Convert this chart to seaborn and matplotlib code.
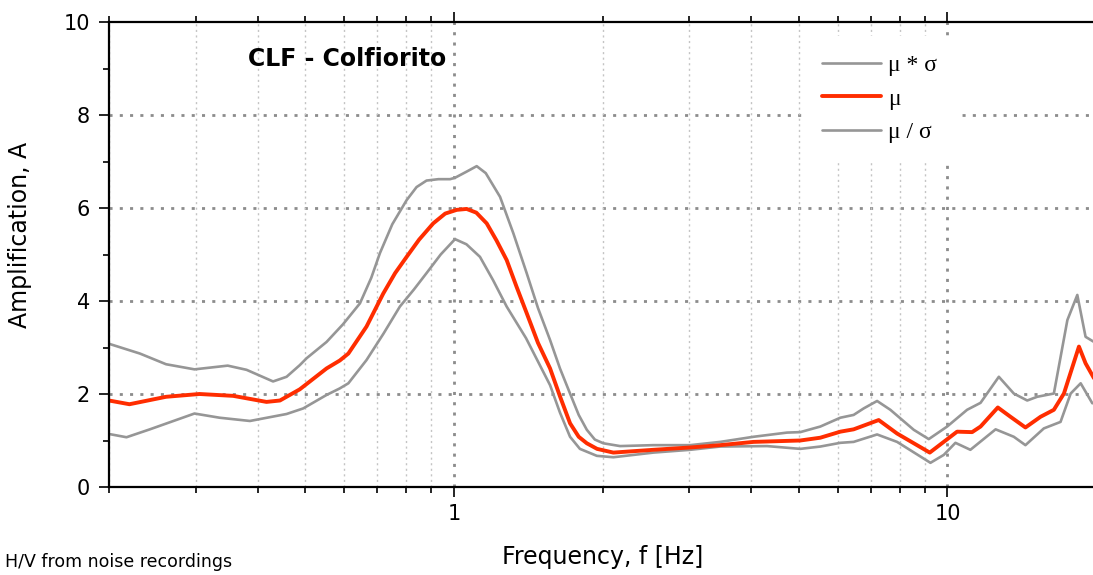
import numpy as np
import pandas as pd
import matplotlib
matplotlib.use("Agg")
import matplotlib.pyplot as plt
import seaborn as sns
from matplotlib.ticker import FixedLocator, FixedFormatter, NullFormatter, LogLocator, MultipleLocator

# ---- data ----
freq_upper = [0.200, 0.231, 0.261, 0.298, 0.348, 0.380, 0.430, 0.458, 0.487, 0.503, 0.552, 0.596,
              0.645, 0.680, 0.708, 0.750, 0.802, 0.840, 0.880, 0.930, 0.982, 1.005, 1.060, 1.112,
              1.160, 1.240, 1.320, 1.404, 1.480, 1.566, 1.640, 1.719, 1.790, 1.859, 1.930, 2.008,
              2.171, 2.537, 3.011, 3.464, 4.047, 4.731, 5.032, 5.526, 6.067, 6.455,
              6.765, 7.202, 7.662, 8.545, 9.165, 9.986, 10.96, 11.67, 12.71, 13.63, 14.51, 15.20,
              16.43, 17.50, 18.33, 19.05, 19.81]
amp_upper = [3.08, 2.87, 2.64, 2.53, 2.61, 2.52, 2.27, 2.37, 2.62, 2.77, 3.12, 3.50,
             3.95, 4.50, 5.03, 5.65, 6.17, 6.45, 6.59, 6.62, 6.62, 6.65, 6.78, 6.90,
             6.75, 6.24, 5.45, 4.60, 3.85, 3.16, 2.55, 2.01, 1.55, 1.23, 1.02, 0.94,
             0.88, 0.90, 0.90, 0.97, 1.08, 1.17, 1.18, 1.30, 1.49, 1.55,
             1.69, 1.85, 1.66, 1.23, 1.03, 1.30, 1.66, 1.81, 2.37, 2.01, 1.86, 1.94,
             2.01, 3.59, 4.13, 3.23, 3.12]

freq_mean = [0.200, 0.220, 0.261, 0.305, 0.357, 0.417, 0.444, 0.487, 0.552, 0.587, 0.611, 0.665,
             0.719, 0.760, 0.802, 0.850, 0.908, 0.960, 1.013, 1.061, 1.110, 1.165, 1.220, 1.279,
             1.340, 1.404, 1.480, 1.566, 1.640, 1.719, 1.790, 1.859, 1.950, 2.104,
             2.537, 3.011, 3.464, 4.047, 5.032, 5.526, 6.067, 6.455, 7.256, 7.906, 9.208, 10.46,
             11.22, 11.67, 12.65, 13.42, 14.39, 15.44, 16.43, 17.22, 18.47, 19.05, 19.81]
amp_mean = [1.86, 1.78, 1.94, 2.00, 1.96, 1.83, 1.86, 2.10, 2.55, 2.72, 2.87, 3.45,
            4.16, 4.60, 4.95, 5.32, 5.67, 5.88, 5.96, 5.98, 5.90, 5.67, 5.30, 4.88,
            4.30, 3.74, 3.10, 2.55, 1.95, 1.37, 1.08, 0.94, 0.82, 0.74,
            0.80, 0.85, 0.90, 0.97, 1.00, 1.06, 1.19, 1.24, 1.44, 1.15, 0.74, 1.19,
            1.18, 1.30, 1.71, 1.51, 1.28, 1.51, 1.66, 2.01, 3.02, 2.66, 2.34]

freq_lower = [0.200, 0.217, 0.242, 0.298, 0.335, 0.386, 0.458, 0.495, 0.552, 0.587, 0.611, 0.665,
              0.720, 0.777, 0.830, 0.880, 0.940, 1.005, 1.060, 1.129, 1.200, 1.279, 1.400, 1.566,
              1.640, 1.719, 1.800, 1.948, 2.104, 2.537, 3.011, 3.464,
              4.309, 5.032, 5.526, 6.067, 6.455, 7.202, 7.906, 9.238, 9.829, 10.38, 11.13, 12.52,
              13.63, 14.39, 15.68, 16.95, 17.77, 18.62, 19.66]
amp_lower = [1.14, 1.07, 1.24, 1.58, 1.49, 1.42, 1.57, 1.69, 1.98, 2.12, 2.23, 2.73,
             3.30, 3.88, 4.25, 4.60, 5.00, 5.33, 5.22, 4.95, 4.45, 3.88, 3.20, 2.19,
             1.60, 1.08, 0.82, 0.67, 0.64, 0.74, 0.80, 0.87,
             0.88, 0.82, 0.87, 0.95, 0.97, 1.13, 0.97, 0.52, 0.69, 0.95, 0.80, 1.24,
             1.08, 0.90, 1.26, 1.40, 2.01, 2.23, 1.80]

x_major_ticks = [1, 10]
x_major_labels = ["1", "10"]
y_major_ticks = [0, 2, 4, 6, 8, 10]
y_grid_values = [2, 4, 6, 8]
series_labels = ["\u03bc * \u03c3", "\u03bc", "\u03bc / \u03c3"]

title_text = "CLF - Colfiorito"
xlabel_text = "Frequency, f [Hz]"
ylabel_text = "Amplification, A"
note_text = "H/V from noise recordings"

# ---- style ----
sns.set_style("white")
plt.rcParams["font.family"] = ["DejaVu Sans"]
plt.rcParams["text.color"] = "black"
plt.rcParams["axes.labelcolor"] = "black"
plt.rcParams["xtick.color"] = "black"
plt.rcParams["ytick.color"] = "black"

GRAY = "#969696"
RED = "#ff2d00"
GRID = "#8c8c8c"
GRID_DOTS = (0, (1.1, 2.6))

W, H = 1093, 575
fig = plt.figure(figsize=(W / 100, H / 100), dpi=100)
ax_left, ax_right, ax_top, ax_bottom = 109, 1096, 22, 487
ax = fig.add_axes([ax_left / W, (H - ax_bottom) / H, (ax_right - ax_left) / W, (ax_bottom - ax_top) / H])

df_u = pd.DataFrame({"f": freq_upper, "A": amp_upper})
df_m = pd.DataFrame({"f": freq_mean, "A": amp_mean})
df_l = pd.DataFrame({"f": freq_lower, "A": amp_lower})

sns.lineplot(data=df_u, x="f", y="A", ax=ax, color=GRAY, lw=1.9, label=series_labels[0], zorder=3)
sns.lineplot(data=df_m, x="f", y="A", ax=ax, color=RED, lw=2.8, label=series_labels[1], zorder=4)
sns.lineplot(data=df_l, x="f", y="A", ax=ax, color=GRAY, lw=1.9, label=series_labels[2], zorder=3)

ax.set_xscale("log")
ax.set_xlim(0.2, 20)
ax.set_ylim(0, 10)

ax.xaxis.set_major_locator(FixedLocator(x_major_ticks))
ax.xaxis.set_major_formatter(FixedFormatter(x_major_labels))
ax.xaxis.set_minor_locator(LogLocator(base=10, subs=np.arange(2, 10), numticks=20))
ax.xaxis.set_minor_formatter(NullFormatter())
ax.yaxis.set_major_locator(FixedLocator(y_major_ticks))
ax.yaxis.set_minor_locator(MultipleLocator(1))

ax.tick_params(which="both", direction="out", top=True, bottom=True, left=True, right=False,
               color="black", width=1.2, labelcolor="black")
ax.tick_params(which="major", length=7.5, labelsize=15, pad=5)
ax.tick_params(which="minor", length=4.5)
ax.tick_params(axis="y", which="major", pad=6)

for side in ["left", "top", "bottom"]:
    ax.spines[side].set_visible(True)
    ax.spines[side].set_color("black")
    ax.spines[side].set_linewidth(1.6)
    ax.spines[side].set_zorder(6)
ax.spines["right"].set_visible(False)

ax.set_axisbelow(True)
ax.grid(False)
for yv in y_grid_values:
    ax.axhline(yv, color=GRID, lw=2.0, linestyle=GRID_DOTS, zorder=0.5)
ax.grid(which="major", axis="x", color=GRID, lw=2.0, linestyle=GRID_DOTS)
ax.grid(which="minor", axis="x", color="#c4c4c4", lw=1.0, linestyle=(0, (1.5, 2.5)))

ax.set_xlabel(xlabel_text, fontsize=17, color="black")
ax.set_ylabel(ylabel_text, fontsize=17, color="black")
ax.xaxis.set_label_coords(0.5, -0.125)
ax.yaxis.set_label_coords(-0.078, 0.542)

fig.text(248 / W, (H - 66) / H, title_text, fontsize=17, fontweight="bold", ha="left",
         va="baseline", color="black")
fig.text(5 / W, (H - 567) / H, note_text, fontsize=12.5, ha="left", va="baseline", color="black")

leg = ax.legend(loc="upper left", bbox_to_anchor=(803 / W, (H - 36) / H),
                bbox_transform=fig.transFigure, borderaxespad=0,
                frameon=True, facecolor="white", edgecolor="none", framealpha=1,
                prop={"family": "Liberation Serif", "size": 17},
                handlelength=2.5, handletextpad=0.3, labelspacing=0.5, borderpad=0.8)
leg.set_zorder(5)
for t in leg.get_texts():
    t.set_color("black")

fig.savefig("out.png", dpi=100)
